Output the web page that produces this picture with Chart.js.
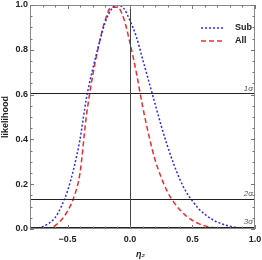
<!DOCTYPE html>
<html>
<head>
<meta charset="utf-8">
<script src="https://cdn.jsdelivr.net/npm/chart.js@4"></script>
<style>
  html, body { margin: 0; padding: 0; background: #fff; }
  #wrap { width: 262px; height: 260px; }
</style>
</head>
<body>
<div id="wrap"><canvas id="grafico" width="262" height="260"></canvas></div>
<script>
// eje x (eta_2) y las dos curvas
const etaVals = [-0.80, -0.75, -0.70, -0.65, -0.60, -0.55, -0.50, -0.45, -0.40, -0.35,
                 -0.30, -0.25, -0.20, -0.15, -0.10, -0.05, 0.00, 0.05, 0.10, 0.15,
                 0.20, 0.25, 0.30, 0.35, 0.40, 0.45, 0.50, 0.55, 0.60, 0.65,
                 0.70, 0.75, 0.80, 0.85, 0.90, 0.95, 1.00];
const subVals = [0.000, 0.003, 0.010, 0.025, 0.050, 0.100, 0.170, 0.270, 0.400, 0.580,
                 0.710, 0.820, 0.920, 0.980, 1.000, 0.985, 0.930, 0.860, 0.760, 0.660,
                 0.560, 0.460, 0.370, 0.290, 0.220, 0.165, 0.125, 0.090, 0.065, 0.045,
                 0.030, 0.020, 0.012, 0.007, 0.004, 0.002, 0.001];
const allVals = [0.000, 0.000, 0.002, 0.005, 0.015, 0.040, 0.080, 0.140, 0.250, 0.500,
                 0.680, 0.820, 0.930, 0.990, 0.990, 0.940, 0.830, 0.700, 0.550, 0.420,
                 0.310, 0.230, 0.165, 0.120, 0.085, 0.058, 0.038, 0.024, 0.014, 0.008,
                 0.004, 0.002, 0.001, 0.000, 0.000, 0.000, 0.000];

// niveles de confianza y etiquetas
const sigmaLevels = [0.607, 0.135, 0.011];
const sigmaLabels = ["1\u03c3", "2\u03c3", "3\u03c3"];
const xTicks = [-0.5, 0.0, 0.5, 1.0];
const yTicks = [0.0, 0.2, 0.4, 0.6, 0.8, 1.0];

const FONT = "Liberation Sans, Arial, sans-serif";

// ===== plugin: marco, ticks, textos, líneas sigma, leyenda =====
const decoracion = {
  id: "decoracion",
  afterDatasetsDraw(chart) {
    const ctx = chart.ctx;
    const a = chart.chartArea;
    const sx = chart.scales.x, sy = chart.scales.y;
    ctx.save();

    // líneas horizontales sigma + vertical en 0
    ctx.strokeStyle = "#222";
    ctx.lineWidth = 1;
    sigmaLevels.forEach(v => {
      const y = Math.round(sy.getPixelForValue(v)) + 0.5;
      ctx.beginPath(); ctx.moveTo(a.left, y); ctx.lineTo(a.right, y); ctx.stroke();
    });
    const x0 = Math.round(sx.getPixelForValue(0)) + 0.5;
    ctx.strokeStyle = "#444";
    ctx.beginPath(); ctx.moveTo(x0, a.top); ctx.lineTo(x0, a.bottom); ctx.stroke();

    // etiquetas sigma
    ctx.fillStyle = "#555";
    ctx.font = "italic 8px " + FONT;
    ctx.textAlign = "right";
    ctx.textBaseline = "bottom";
    sigmaLevels.forEach((v, i) => {
      ctx.fillText(sigmaLabels[i], a.right - 2, sy.getPixelForValue(v) - 0.5);
    });

    // marco
    ctx.strokeStyle = "#888";
    ctx.lineWidth = 1;
    ctx.strokeRect(a.left + 0.5, a.top + 0.5, a.right - a.left - 1, a.bottom - a.top - 1);

    // ticks (mayores y menores) hacia dentro
    ctx.strokeStyle = "#777";
    for (let v = 0; v <= 1.0001; v += 0.05) {
      const y = Math.round(sy.getPixelForValue(v)) + 0.5;
      const major = Math.abs(v * 5 - Math.round(v * 5)) < 1e-6;
      const len = major ? 4 : 2.5;
      ctx.beginPath(); ctx.moveTo(a.left, y); ctx.lineTo(a.left + len, y); ctx.stroke();
      ctx.beginPath(); ctx.moveTo(a.right, y); ctx.lineTo(a.right - len, y); ctx.stroke();
    }
    for (let v = -0.8; v <= 1.0001; v += 0.1) {
      const x = Math.round(sx.getPixelForValue(v)) + 0.5;
      const major = Math.abs(v * 2 - Math.round(v * 2)) < 1e-6;
      const len = major ? 4 : 2.5;
      ctx.beginPath(); ctx.moveTo(x, a.bottom); ctx.lineTo(x, a.bottom - len); ctx.stroke();
      ctx.beginPath(); ctx.moveTo(x, a.top); ctx.lineTo(x, a.top + len); ctx.stroke();
    }

    // etiquetas de ticks
    ctx.fillStyle = "#222";
    ctx.font = "bold 9px " + FONT;
    ctx.textAlign = "right";
    ctx.textBaseline = "middle";
    yTicks.forEach(v => ctx.fillText(v.toFixed(1), a.left - 2, sy.getPixelForValue(v)));
    ctx.textAlign = "center";
    xTicks.forEach(v => {
      const txt = (v < 0 ? "\u2212" : "") + Math.abs(v).toFixed(1);
      ctx.fillText(txt, sx.getPixelForValue(v), a.bottom + 11);
    });

    // títulos de ejes
    ctx.font = "italic bold 9px " + FONT;
    ctx.fillText("\u03b7\u2082", (a.left + a.right) / 2 - 2, a.bottom + 26);
    ctx.save();
    ctx.translate(6, (a.top + a.bottom) / 2);
    ctx.rotate(-Math.PI / 2);
    ctx.font = "bold 9px " + FONT;
    ctx.fillText("likelihood", 0, 0);
    ctx.restore();

    // leyenda
    const items = [
      { label: "Sub", color: "#2b2bf0", dash: [2, 2] },
      { label: "All", color: "#f02b2b", dash: [5, 3] }
    ];
    ctx.font = "bold 9px " + FONT;
    ctx.textAlign = "left";
    ctx.textBaseline = "middle";
    items.forEach((it, i) => {
      const y = a.top + 23 + i * 13;
      ctx.strokeStyle = it.color;
      ctx.lineWidth = 1.5;
      ctx.setLineDash(it.dash);
      ctx.beginPath(); ctx.moveTo(a.right - 54, y); ctx.lineTo(a.right - 32, y); ctx.stroke();
      ctx.setLineDash([]);
      ctx.fillStyle = "#222";
      ctx.fillText(it.label, a.right - 20, y);
    });

    ctx.restore();
  }
};

new Chart(document.getElementById("grafico"), {
  type: "line",
  data: {
    datasets: [
      {
        label: "Sub",
        data: etaVals.map((x, i) => ({ x: x, y: subVals[i] })),
        borderColor: "#2b2bf0",
        borderWidth: 1.5,
        borderDash: [2, 2],
        pointRadius: 0,
        cubicInterpolationMode: "monotone"
      },
      {
        label: "All",
        data: etaVals.map((x, i) => ({ x: x, y: allVals[i] })),
        borderColor: "#f02b2b",
        borderWidth: 1.5,
        borderDash: [5, 3],
        pointRadius: 0,
        cubicInterpolationMode: "monotone"
      }
    ]
  },
  options: {
    responsive: false,
    animation: false,
    layout: { padding: { left: 30, top: 5, right: 7, bottom: 31 } },
    plugins: { legend: { display: false }, tooltip: { enabled: false } },
    scales: {
      x: {
        type: "linear",
        min: -0.8,
        max: 1.0,
        grid: { display: false },
        border: { display: false },
        ticks: { display: false },
        afterFit: s => { s.height = 0; }
      },
      y: {
        min: 0,
        max: 1.0,
        grid: { display: false },
        border: { display: false },
        ticks: { display: false },
        afterFit: s => { s.width = 0; }
      }
    }
  },
  plugins: [decoracion]
});
</script>
</body>
</html>
